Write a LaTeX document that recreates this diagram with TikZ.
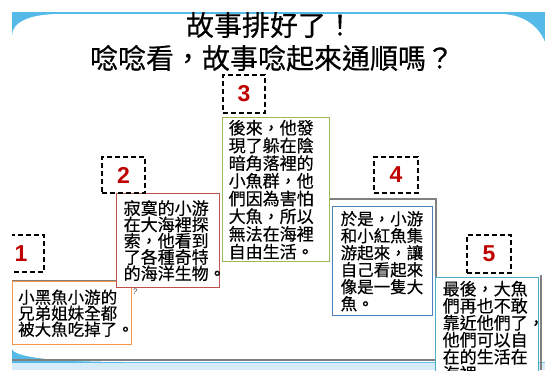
\documentclass[tikz,border=0pt]{standalone}
\usepackage{fontspec}
\newfontfamily\cjk[FakeBold=0.4]{Noto Sans CJK TC}
\newfontfamily\numfont{Liberation Sans}
\definecolor{slideblue}{RGB}{86,186,232}
\definecolor{paleblue}{RGB}{214,236,248}
\definecolor{boxorange}{RGB}{247,150,70}
\definecolor{boxred}{RGB}{192,80,77}
\definecolor{boxgreen}{RGB}{155,187,89}
\definecolor{boxblue}{RGB}{79,129,189}
\definecolor{boxcyan}{RGB}{75,172,198}
\definecolor{numred}{RGB}{192,0,0}
\definecolor{stepgray}{RGB}{128,128,128}
\tikzset{
  storybox/.style={draw=#1, fill=white, line width=1.4pt, anchor=north west, align=left,
    inner ysep=0pt, font=\cjk\fontsize{17}{17}\selectfont},
  numbox/.style={draw=black, fill=white, line width=1.8pt, dash pattern=on 5pt off 3pt,
    font=\numfont\bfseries\fontsize{23}{23}\selectfont, text=numred, inner sep=0pt},
  titletext/.style={font=\cjk\fontsize{28}{30}\selectfont, inner sep=0pt},
  stepline/.style={draw=stepgray, line width=1.2pt},
}
\begin{document}
\begin{tikzpicture}[x=1pt,y=-1pt]
\useasboundingbox (0,0) rectangle (545,370);
\begin{scope}
\clip (12,12) rectangle (545,370);
% slide background
\fill[slideblue] (12,12) rectangle (545,370);
\fill[white] (12,36) .. controls (12,22) and (30,14) .. (60,14) -- (500,14)
  .. controls (522,14) and (538,25) .. (545,42) -- (545,362) -- (130,362)
  .. controls (60,362) and (12,358) .. (12,348) -- cycle;
\fill[paleblue] (12,363) rectangle (545,370);
% gray steps
\draw[stepline] (12,281) -- (131,281);
\draw[stepline] (329,199) -- (436,199) -- (436,277);
\draw[stepline] (12,360) -- (436,360);
\draw[stepline] (541,275) -- (541,370);
% story boxes
\node[storybox=boxorange, font=\cjk\fontsize{16.5}{16}\selectfont, inner xsep=5.5pt, text width=108pt, minimum height=63pt] (b1) at (12,281)
  {小黑魚小游的\\兄弟姐妹全都\\被大魚吃掉了。};
\node[storybox=boxred, font=\cjk\fontsize{17}{16.3}\selectfont, inner xsep=7pt, text width=89pt, minimum height=94pt] (b2) at (116,193)
  {寂寞的小游\\在大海裡探\\索，他看到\\了各種奇特\\的海洋生物。};
\node[storybox=boxgreen, font=\cjk\fontsize{17}{17.7}\selectfont, inner xsep=6pt, text width=95pt, minimum height=144pt] (b3) at (222,117)
  {後來，他發\\現了躲在陰\\暗角落裡的\\小魚群，他\\們因為害怕\\大魚，所以\\無法在海裡\\自由生活。};
\node[storybox=boxblue, font=\cjk\fontsize{16.5}{17}\selectfont, inner xsep=8pt, text width=84pt, minimum height=109pt] (b4) at (332,206)
  {於是，小游\\和小紅魚集\\游起來，讓\\自己看起來\\像是一隻大\\魚。};
\node[storybox=boxcyan, font=\cjk\fontsize{17}{17}\selectfont, inner xsep=7pt, text width=89pt, minimum height=107pt] (b5) at (435,277)
  {最後，大魚\\們再也不敢\\靠近他們了，\\他們可以自\\在的生活在\\海裡。};
\node[font=\numfont\itshape\fontsize{8}{8}\selectfont, text=black!70, inner sep=0pt] (q) at (135,292) {?};
% number boxes
\node[numbox, minimum width=46pt, minimum height=37pt] (n1) at (21,253.5) {1};
\node[numbox, minimum width=43pt, minimum height=36pt] (n2) at (123.5,175) {2};
\node[numbox, minimum width=42pt, minimum height=38pt] (n3) at (244,94) {3};
\node[numbox, minimum width=44pt, minimum height=36pt] (n4) at (396,175) {4};
\node[numbox, minimum width=44pt, minimum height=38pt] (n5) at (489,254) {5};
% title
\node[titletext] (t1) at (270,25) {故事排好了！};
\node[titletext] (t2) at (272,58) {唸唸看，故事唸起來通順嗎？};
\end{scope}
\end{tikzpicture}
\end{document}
